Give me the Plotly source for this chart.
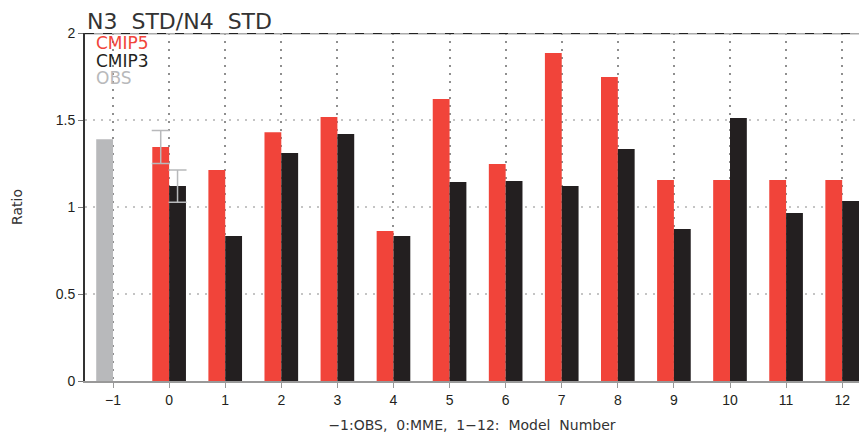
import plotly.graph_objects as go

models = list(range(0, 13))
cmip5 = [1.345, 1.213, 1.43, 1.517, 0.862, 1.62, 1.247, 1.885, 1.747, 1.155, 1.155, 1.155, 1.155]
cmip3 = [1.12, 0.833, 1.31, 1.42, 0.833, 1.144, 1.149, 1.12, 1.333, 0.874, 1.511, 0.966, 1.034]
obs_x = [-1]
obs = [1.39]
err5_mme = 0.095
err3_mme = 0.092

tick_vals = list(range(-1, 13))
tick_text = ["\u22121"] + [str(v) for v in range(0, 13)]

RED = "#f1443a"
BLACK = "#231f20"
GRAY = "#b8b9bb"
FONT = "Liberation Sans"
NB = "\u00a0"

fig = go.Figure()
fig.add_trace(go.Bar(x=obs_x, y=obs, width=0.3, offset=-0.3, marker_color=GRAY,
                     marker_line_width=0, showlegend=False))
fig.add_trace(go.Bar(x=models, y=cmip5, width=0.3, offset=-0.3, marker_color=RED,
                     marker_line_width=0, showlegend=False))
fig.add_trace(go.Bar(x=models, y=cmip3, width=0.3, offset=0.0, marker_color=BLACK,
                     marker_line_width=0, showlegend=False))
# error bars for MME
fig.add_trace(go.Scatter(x=[models[0] - 0.15], y=[cmip5[0]], mode="markers",
                         marker=dict(size=0.1, color="rgba(0,0,0,0)"),
                         error_y=dict(type="constant", value=err5_mme, color=GRAY, thickness=1.5, width=9),
                         showlegend=False, hoverinfo="skip"))
fig.add_trace(go.Scatter(x=[models[0] + 0.15], y=[cmip3[0]], mode="markers",
                         marker=dict(size=0.1, color="rgba(0,0,0,0)"),
                         error_y=dict(type="constant", value=err3_mme, color=GRAY, thickness=1.5, width=9),
                         showlegend=False, hoverinfo="skip"))

xtitle = ("\u22121:OBS," + NB * 2 + "0:MME," + NB * 2 + "1\u221212:" + NB * 2 + "Model" + NB * 2 + "Number")

fig.update_layout(
    width=859, height=433,
    margin=dict(l=85, r=0, t=33, b=52),
    plot_bgcolor="white", paper_bgcolor="white",
    barmode="overlay",
    font=dict(family=FONT, size=14, color=BLACK),
    xaxis=dict(range=[-1.5, 12.3], tickvals=tick_vals, ticktext=tick_text, automargin=False,
               showgrid=True, gridcolor="#8f8f8f", griddash="2px,6px", gridwidth=1.5,
               showline=True, linecolor="#999999", linewidth=2,
               ticks="outside", ticklen=5, tickcolor="#999999",
               zeroline=False,
               title=dict(text=xtitle, font=dict(family="DejaVu Sans", size=14, color="#333333"),
                          standoff=14)),
    yaxis=dict(range=[0, 2], tickvals=[0, 0.5, 1, 1.5, 2], ticktext=["0", "0.5", "1", "1.5", "2"],
               automargin=False,
               showgrid=True, gridcolor="#c4c4c4", griddash="2px,6px", gridwidth=1.5,
               showline=True, linecolor="#333333", linewidth=2,
               ticks="outside", ticklen=5, tickcolor="#777777",
               zeroline=False,
               title=dict(text="Ratio", font=dict(family="DejaVu Sans", size=14, color="#333333"),
                          standoff=30)),
    annotations=[
        dict(text="N3" + NB * 2 + "STD/N4" + NB * 2 + "STD", xref="paper", yref="paper", x=0.0, y=1.0,
             xanchor="left", yanchor="bottom", showarrow=False,
             font=dict(family="DejaVu Sans", size=22, color="#333333"), yshift=-3),
        dict(text="CMIP5", xref="paper", yref="paper", x=0.011, y=1.0, xanchor="left", yanchor="top",
             showarrow=False, font=dict(family="DejaVu Sans", size=17, color=RED), yshift=2),
        dict(text="CMIP3", xref="paper", yref="paper", x=0.011, y=1.0, xanchor="left", yanchor="top",
             showarrow=False, font=dict(family="DejaVu Sans", size=17, color=BLACK), yshift=-15.5),
        dict(text="OBS", xref="paper", yref="paper", x=0.011, y=1.0, xanchor="left", yanchor="top",
             showarrow=False, font=dict(family="DejaVu Sans", size=17, color=GRAY), yshift=-33),
    ],
    shapes=[
        dict(type="line", xref="paper", yref="y", x0=0, x1=1, y0=2, y1=2,
             line=dict(color="#aaaaaa", width=3)),
        dict(type="line", xref="paper", yref="y", x0=0, x1=1, y0=2, y1=2,
             line=dict(color="#222222", width=2, dash="dash")),
    ],
)

fig.write_html("out.html", config={"displayModeBar": False},
               post_script="document.body.style.margin='0';")
